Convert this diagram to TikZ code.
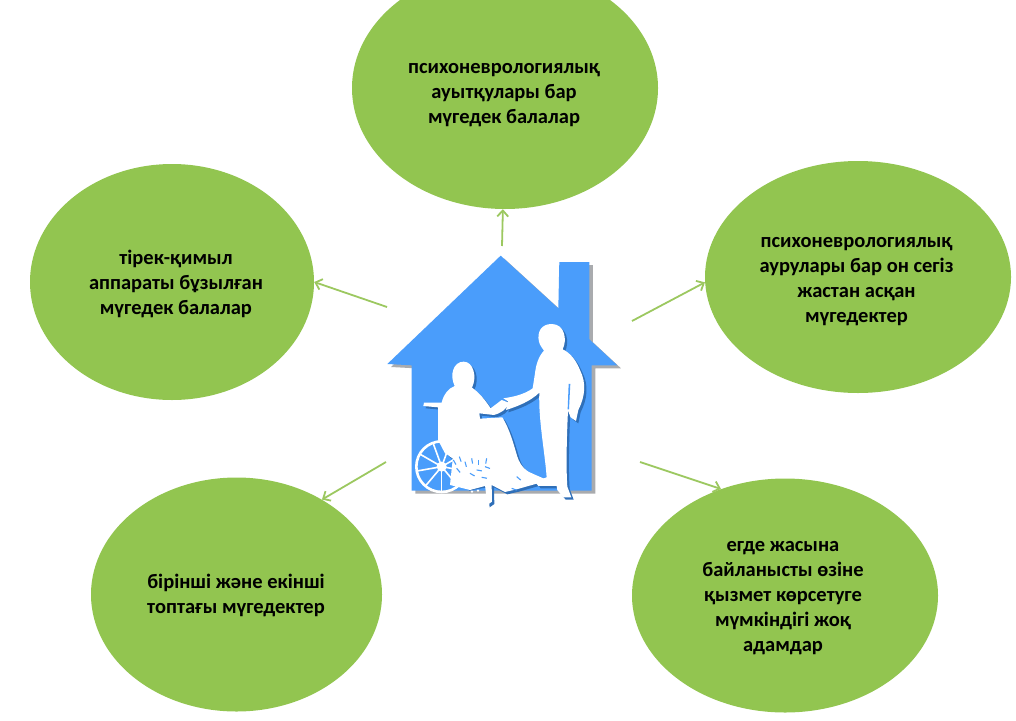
\documentclass[tikz,border=0pt]{standalone}
\usepackage{fontspec}
\setmainfont{Carlito}
\usetikzlibrary{shapes.geometric,arrows.meta}
\definecolor{leaf}{HTML}{92C550}
\definecolor{stem}{HTML}{9CC860}
\definecolor{roof}{HTML}{4A9DFB}
\definecolor{wallshade}{HTML}{A9ABAE}
\definecolor{figshade}{HTML}{2F6FB8}
\tikzset{
  bubble/.style={ellipse, fill=leaf, inner sep=0pt},
  bubbletext/.style={align=center, inner sep=0pt, font=\fontsize{20.5}{25}\bfseries\selectfont},
  link/.style={-{Straight Barb[length=6pt,width=11pt]}, stem, line width=1.8pt},
}
% silhouettes, in the units of the small scope below
\newcommand{\housepath}{(392,47) -- (565,205) -- (568,66) -- (658,66) -- (658,298) -- (742,376) -- (665,376) -- (665,752) -- (125,752) -- (125,376) -- (52,372) -- cycle}
\newcommand{\walker}{(545,252) .. controls (515,252) and (500,275) .. (507,305) .. controls (510,318) and (518,325) .. (522,332)
  .. controls (505,350) and (498,375) .. (495,400) -- (488,445) .. controls (465,462) and (435,470) .. (400,475) -- (414,484) -- (408,510)
  .. controls (440,500) and (480,485) .. (508,458) .. controls (505,540) and (525,640) .. (530,712)
  -- (495,725) -- (505,738) -- (560,738) -- (562,750) -- (580,772) -- (604,772) -- (592,740)
  .. controls (588,680) and (590,600) .. (594,512) -- (602,532) -- (618,543) -- (625,510)
  .. controls (645,470) and (650,430) .. (630,390) .. controls (618,360) and (600,338) .. (578,328)
  .. controls (592,300) and (585,252) .. (545,252) -- cycle}
\newcommand{\sitter}{(281,365) .. controls (250,365) and (238,405) .. (254,438) .. controls (235,445) and (220,465) .. (215,488)
  -- (162,488) -- (160,498) -- (204,502) -- (204,600) -- (225,640) -- (300,690) -- (290,745) -- (345,735) -- (352,795) -- (366,785) -- (365,735)
  -- (405,756) -- (440,748) -- (500,731) -- (522,716) -- (490,702) .. controls (470,695) and (452,680) .. (442,650)
  .. controls (430,610) and (420,570) .. (397,532) -- (330,536) -- (328,520) -- (372,525) .. controls (390,520) and (410,510) .. (416,488)
  -- (395,480) -- (362,505) .. controls (345,480) and (330,460) .. (306,443) .. controls (322,410) and (310,365) .. (281,365) -- cycle}
\begin{document}
\begin{tikzpicture}[x=1pt,y=-1pt]
  \useasboundingbox (0,0) rectangle (1016,720);
  \node[bubble, minimum width=306pt, minimum height=242pt] (delay) at (505,88) {};
  \node[bubble, minimum width=284pt, minimum height=236pt] (motor) at (172,282) {};
  \node[bubble, minimum width=306pt, minimum height=232pt] (adult) at (858,277) {};
  \node[bubble, minimum width=291pt, minimum height=234pt] (group) at (236.5,594.5) {};
  \node[bubble, minimum width=306pt, minimum height=234pt] (aged) at (785,595.5) {};
  \node[bubbletext] (delaytext) at (504,95) {психоневрологиялық\\ауытқулары бар\\мүгедек балалар};
  \node[bubbletext] (motortext) at (176,284) {тірек-қимыл\\аппараты бұзылған\\мүгедек балалар};
  \node[bubbletext] (adulttext) at (856.5,281.5) {психоневрологиялық\\аурулары бар он сегіз\\жастан асқан\\мүгедектер};
  \node[bubbletext] (grouptext) at (236,595) {бірінші және екінші\\топтағы мүгедектер};
  \node[bubbletext] (agedtext) at (783,598) {егде жасына\\байланысты өзіне\\қызмет көрсетуге\\мүмкіндігі жоқ\\адамдар};
  \begin{scope}[shift={(370,240)},x=0.3333pt,y=-0.3333pt]
    \fill[wallshade, shift={(11,9)}] \housepath;
    \fill[roof] \housepath;
    \fill[figshade, shift={(7,7)}] \walker;
    \fill[figshade, shift={(7,7)}] \sitter;
    \fill[white] \walker;
    \fill[white] \sitter;
    \fill[roof] (596,432) -- (601,432) -- (597,508) -- (593,508) -- cycle; % gap behind the arm
    % wheel
    \draw[white, line width=2.6pt] (215,680) circle (76);
    \foreach \a in {10,50,...,330}
      \draw[white, line width=1.6pt] (215,680) -- ++(\a:76);
    \fill[white] (215,680) circle (15);
    \fill[white] (250,640) -- (300,650) -- (375,650) -- (375,730) -- (300,750) -- (240,735) -- cycle;
    \foreach \px/\py/\r in {232/645/60,250/660/60,268/650/70,285/665/75,305/655/80,325/660/90,350/655/100,345/680/20,320/690/10,300/700/30,260/685/50,335/712/10,425/745/20,440/710/40}
      \draw[roof, line width=1.1pt] (\px,\py) -- ++(\r:16);
    \foreach \px/\py in {306/755,324/752,300/772,312/790,330/795,342/770}
      \fill[white] (\px,\py) circle (4);
  \end{scope}
  \coordinate (toptail) at (502,246);
  \coordinate (lefttail) at (387,307);
  \coordinate (righttail) at (632,321);
  \coordinate (lowltail) at (386,462);
  \coordinate (lowrtail) at (640,462);
  \draw[link] (toptail) -- (delay.269);
  \draw[link] (lefttail) -- (motor.0);
  \draw[link] (righttail) -- (adult.182);
  \draw[link] (lowltail) -- (group.48);
  \draw[link] (lowrtail) -- (aged.121);
\end{tikzpicture}
\end{document}
